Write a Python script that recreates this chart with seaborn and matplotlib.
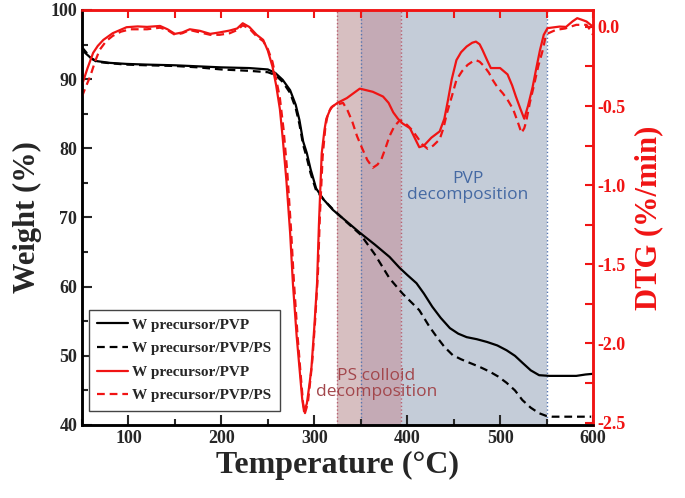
import matplotlib
matplotlib.use("Agg")
import matplotlib.pyplot as plt
import seaborn as sns
from matplotlib.ticker import MultipleLocator

# TGA, W precursor/PVP (solid black)
tga_pvp_t = [50, 60, 66, 80, 98, 120, 150, 175, 200, 230, 250, 258, 266, 274, 280, 284, 288, 292,
             296, 302, 310, 320, 335, 349, 365, 381, 392, 400, 410, 418, 427, 436, 446, 455, 464,
             475, 486, 497, 507, 516, 524, 533, 542, 553, 570, 582, 592, 600]
tga_pvp_w = [94.2, 93.0, 92.6, 92.35, 92.2, 92.1, 92.0, 91.85, 91.7, 91.6, 91.4, 90.9, 89.9, 88.4,
             86.3, 84.1, 81.0, 79.3, 77.0, 74.2, 72.6, 71.1, 69.4, 67.8, 66.1, 64.3, 62.7, 61.7,
             60.5, 59.0, 57.1, 55.5, 54.0, 53.2, 52.7, 52.4, 52.0, 51.5, 50.8, 50.0, 49.0, 47.9,
             47.2, 47.1, 47.1, 47.1, 47.3, 47.4]

# TGA, W precursor/PVP/PS (dashed black)
tga_ps_t = [50, 60, 66, 80, 98, 120, 150, 175, 200, 230, 250, 258, 266, 274, 280, 284, 288, 292,
            296, 302, 310, 320, 335, 350, 365, 381, 395, 413, 424, 432, 440, 449, 458, 467, 478,
            489, 498, 507, 516, 524, 533, 542, 550, 556, 575, 598]
tga_ps_w = [94.6, 93.0, 92.5, 92.3, 92.1, 92.0, 91.9, 91.7, 91.4, 91.2, 91.0, 90.6, 89.6, 88.0,
            85.8, 83.5, 80.5, 78.6, 76.4, 73.9, 72.6, 71.2, 69.3, 67.5, 64.7, 61.2, 59.0, 56.6,
            54.2, 52.7, 51.3, 50.1, 49.5, 49.0, 48.4, 47.7, 47.0, 46.1, 45.0, 43.6, 42.5, 41.7,
            41.3, 41.2, 41.2, 41.2]

# DTG, W precursor/PVP (solid red)
dtg_pvp_t = [50, 56, 62, 67, 73, 83, 98, 110, 120, 134, 142, 150, 158, 166, 177, 188, 198, 209,
             217, 223, 230, 238, 245, 250, 255, 259, 263, 266, 270, 274, 277, 281, 284, 287, 289,
             292, 295, 297, 300, 303, 305, 308, 311, 313, 318, 325, 335, 349, 363, 374, 380, 385,
             390, 395, 403, 408, 413, 418, 426, 435, 440, 444, 448, 453, 458, 464, 470, 474, 478,
             481, 486, 490, 495, 500, 504, 508, 513, 517, 522, 526, 530, 535, 539, 543, 547, 551,
             564, 571, 578, 583, 588, 593, 597, 600]
dtg_pvp_v = [-0.367, -0.26, -0.164, -0.12, -0.082, -0.04, -0.002, 0.003, 0.0, 0.006, -0.015,
             -0.044, -0.035, -0.015, -0.025, -0.044, -0.035, -0.023, -0.01, 0.023, 0.0, -0.05,
             -0.082, -0.15, -0.25, -0.37, -0.52, -0.70, -0.97, -1.30, -1.62, -1.95, -2.15, -2.35,
             -2.43, -2.38, -2.25, -2.15, -1.90, -1.62, -1.25, -0.80, -0.65, -0.58, -0.51, -0.48,
             -0.45, -0.39, -0.41, -0.44, -0.48, -0.54, -0.58, -0.61, -0.64, -0.70, -0.76, -0.75,
             -0.70, -0.66, -0.58, -0.46, -0.33, -0.21, -0.16, -0.124, -0.10, -0.093, -0.11,
             -0.145, -0.21, -0.26, -0.26, -0.26, -0.28, -0.30, -0.37, -0.44, -0.52, -0.58, -0.50,
             -0.38, -0.26, -0.145, -0.05, -0.008, 0.002, 0.0, 0.035, 0.055, 0.045, 0.034, 0.015,
             0.002]

# DTG, W precursor/PVP/PS (dashed red)
dtg_ps_t = [50, 54, 59, 64, 69, 76, 83, 92, 102, 120, 134, 142, 150, 158, 166, 177, 188, 198,
            209, 217, 223, 230, 238, 245, 250, 255, 259, 263, 267, 271, 275, 278, 282, 285, 288,
            290, 293, 296, 298, 301, 304, 306, 309, 312, 315, 320, 325, 331, 336, 341, 346, 351,
            357, 363, 368, 372, 377, 381, 386, 392, 396, 400, 405, 410, 416, 422, 428, 435, 439,
            443, 448, 453, 459, 465, 470, 474, 478, 483, 488, 492, 497, 503, 508, 514, 519, 523,
            526, 528, 532, 537, 541, 546, 549, 552, 560, 570, 582, 593, 597, 600]
dtg_ps_v = [-0.44, -0.38, -0.31, -0.22, -0.145, -0.09, -0.057, -0.03, -0.015, -0.015, -0.005,
            -0.02, -0.05, -0.04, -0.02, -0.035, -0.05, -0.05, -0.04, -0.02, 0.01, -0.01, -0.06,
            -0.09, -0.14, -0.22, -0.33, -0.45, -0.65, -0.92, -1.28, -1.60, -1.95, -2.17, -2.38,
            -2.44, -2.38, -2.22, -2.10, -1.85, -1.55, -1.20, -0.82, -0.63, -0.54, -0.50, -0.49,
            -0.48, -0.53, -0.60, -0.69, -0.76, -0.84, -0.89, -0.87, -0.84, -0.76, -0.69, -0.63,
            -0.59, -0.60, -0.62, -0.65, -0.69, -0.74, -0.77, -0.75, -0.71, -0.64, -0.54, -0.44,
            -0.335, -0.28, -0.24, -0.22, -0.21, -0.22, -0.25, -0.29, -0.335, -0.38, -0.42, -0.46,
            -0.52, -0.60, -0.67, -0.64, -0.60, -0.48, -0.355, -0.25, -0.145, -0.06, -0.04,
            -0.019, -0.01, 0.013, 0.013, -0.02, -0.05]

labels = ["W precursor/PVP", "W precursor/PVP/PS"]
ps_range = [325, 393]
pvp_range = [350, 550]

red = '#f01414'

sns.set_style("ticks")
plt.rcParams['font.family'] = ['Liberation Serif', 'DejaVu Serif']
plt.rcParams['font.weight'] = 'bold'

fig = plt.figure(figsize=(6.85, 4.98), dpi=100)
ax = fig.add_axes([0.1197, 0.1466, 0.746, 0.8334])
ax2 = ax.twinx()

# shaded regions
ov = [max(ps_range[0], pvp_range[0]), min(ps_range[1], pvp_range[1])]
ax.axvspan(pvp_range[0], pvp_range[1], color='#c4ccd8', lw=0, zorder=0)
ax.axvspan(ps_range[0], ps_range[1], color='#d7bfc1', lw=0, zorder=0)
ax.axvspan(ov[0], ov[1], color='#c4aab5', lw=0, zorder=0)
for x in ps_range:
    ax.axvline(x, color='#b86070', ls=':', lw=1.0, zorder=0.5)
for x in pvp_range:
    ax.axvline(x, color='#5575b0', ls=':', lw=1.0, zorder=0.5)

dash = (3.5, 2.2)
sns.lineplot(x=tga_pvp_t, y=tga_pvp_w, ax=ax, color='black', lw=1.6, label=labels[0], legend=False)
sns.lineplot(x=tga_ps_t, y=tga_ps_w, ax=ax, color='black', lw=1.6, dashes=False, legend=False,
             label=labels[1]).lines[-1].set_dashes(dash)
sns.lineplot(x=dtg_pvp_t, y=dtg_pvp_v, ax=ax2, color=red, lw=1.6, label=labels[0], legend=False)
sns.lineplot(x=dtg_ps_t, y=dtg_ps_v, ax=ax2, color=red, lw=1.6, dashes=False, legend=False,
             label=labels[1]).lines[-1].set_dashes(dash)

ax.text(367, 45.9, "PS colloid\ndecomposition", color='#a3474c', fontsize=12.5,
        family=['Open Sans', 'DejaVu Sans'], weight='normal', ha='center', va='center', linespacing=0.95)
ax.text(465, 74.4, "PVP\ndecomposition", color='#4569a3', fontsize=12.5,
        family=['Open Sans', 'DejaVu Sans'], weight='normal', ha='center', va='center', linespacing=0.95)

ax.set_xlim(50, 600)
ax.set_ylim(40, 100)
ax2.set_ylim(-2.515, 0.107)

ax.xaxis.set_major_locator(MultipleLocator(100))
ax.xaxis.set_minor_locator(MultipleLocator(50))
ax.yaxis.set_major_locator(MultipleLocator(10))
ax.yaxis.set_minor_locator(MultipleLocator(5))
ax2.yaxis.set_major_locator(MultipleLocator(0.5))
ax2.yaxis.set_minor_locator(MultipleLocator(0.25))
ax2.yaxis.set_major_formatter(matplotlib.ticker.FormatStrFormatter('%.1f'))

ax.tick_params(axis='x', which='both', direction='in', top=False, labelsize=13, width=1.5)
ax.tick_params(axis='x', which='major', length=7)
ax.tick_params(axis='x', which='minor', length=4)
ax.tick_params(axis='y', which='both', direction='in', labelsize=13, width=1.5)
ax.tick_params(axis='y', which='major', length=7)
ax.tick_params(axis='y', which='minor', length=4)
ax2.xaxis.set_visible(True)
ax2.tick_params(axis='x', which='both', direction='in', bottom=False, top=True, labelbottom=False,
                labeltop=False, color=red, width=1.5, length=6)
ax2.tick_params(axis='y', which='both', direction='in', colors=red, labelsize=13, width=1.5, length=6)

for a in (ax, ax2):
    a.spines['left'].set_color('black')
    a.spines['bottom'].set_color('black')
    a.spines['top'].set_color(red)
    a.spines['right'].set_color(red)
    for s in a.spines.values():
        s.set_linewidth(1.8)
        s.set_visible(True)

ax.set_xlabel("Temperature (°C)", fontsize=23, fontweight='bold', labelpad=3)
ax.set_ylabel("Weight (%)", fontsize=22, fontweight='bold', labelpad=6)
ax2.set_ylabel("DTG (%/min)", fontsize=22, fontweight='bold', color=red, labelpad=6)

h1, l1 = ax.get_legend_handles_labels()
h2, l2 = ax2.get_legend_handles_labels()
leg = ax2.legend(h1 + h2, l1 + l2, loc='lower left', bbox_to_anchor=(0.013, 0.034), borderaxespad=0,
                 fontsize=11, frameon=True, fancybox=False, framealpha=1, edgecolor='#444444',
                 labelspacing=0.65, handlelength=2.0, handletextpad=0.3, borderpad=0.55)
leg.get_frame().set_linewidth(1.0)

fig.savefig("out.png", dpi=100)
